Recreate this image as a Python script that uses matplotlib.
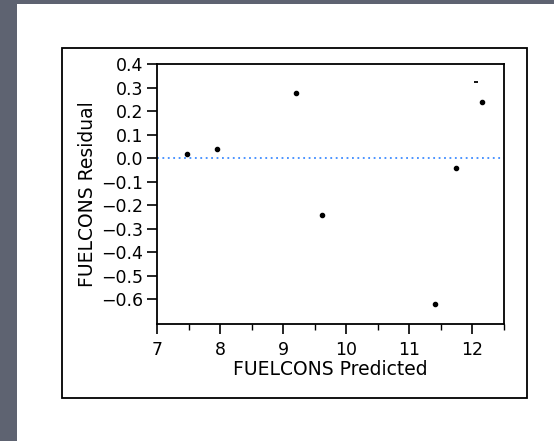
import matplotlib.pyplot as plt
from matplotlib.patches import Rectangle
from matplotlib.ticker import MultipleLocator

# valores
predicho = [7.47, 7.95, 9.21, 9.62, 11.40, 11.74, 12.15]
residuo = [0.018, 0.040, 0.275, -0.240, -0.620, -0.044, 0.237]
# el puntito cortado arriba a la derecha
predicho_raya = [12.06]
residuo_raya = [0.323]

fig = plt.figure(figsize=(5.54, 4.41), dpi=100)
fig.patch.set_facecolor('#5e6371')

# panel blanco y recuadro exterior
fig.patches.append(Rectangle((17 / 554, 0), 1, 1 - 4 / 441, transform=fig.transFigure,
                             facecolor='white', edgecolor='none', zorder=-2))
fig.patches.append(Rectangle((62 / 554, 1 - 398 / 441), 465 / 554, 350 / 441,
                             transform=fig.transFigure, facecolor='none',
                             edgecolor='black', linewidth=1.3, zorder=-1))

ax = fig.add_axes([157 / 554, 1 - 324 / 441, 347 / 554, 260 / 441])
ax.set_zorder(2)
ax.set_facecolor('white')

ax.axhline(0, color='#3d8bff', linestyle=(0, (1, 2)), linewidth=1.3, zorder=1)
ax.plot(predicho, residuo, 'o', color='black', markersize=3, zorder=3)
ax.plot(predicho_raya, residuo_raya, '_', color='black', markersize=3,
        markeredgewidth=1.3, zorder=3)

ax.set_xlim(7, 12.5)
ax.set_ylim(-0.705, 0.4)
ax.xaxis.set_major_locator(MultipleLocator(1))
ax.xaxis.set_minor_locator(MultipleLocator(0.5))
ax.set_yticks([0.4, 0.3, 0.2, 0.1, 0.0, -0.1, -0.2, -0.3, -0.4, -0.5, -0.6])
ax.set_yticklabels(['0.4', '0.3', '0.2', '0.1', '0.0', '\u22120.1', '\u22120.2', '\u22120.3',
                    '\u22120.4', '\u22120.5', '\u22120.6'])

ax.tick_params(axis='both', which='major', length=7, width=1.2, labelsize=12.5, direction='out')
ax.tick_params(axis='x', which='minor', length=4, width=1.0)
ax.tick_params(axis='x', pad=5)
ax.tick_params(axis='y', pad=3)
for s in ax.spines.values():
    s.set_linewidth(1.3)

ax.set_xlabel('FUELCONS Predicted', fontsize=13.5, labelpad=1)
ax.set_ylabel('FUELCONS Residual', fontsize=13.5, labelpad=3)

fig.savefig('out.png', dpi=100, facecolor=fig.get_facecolor())
